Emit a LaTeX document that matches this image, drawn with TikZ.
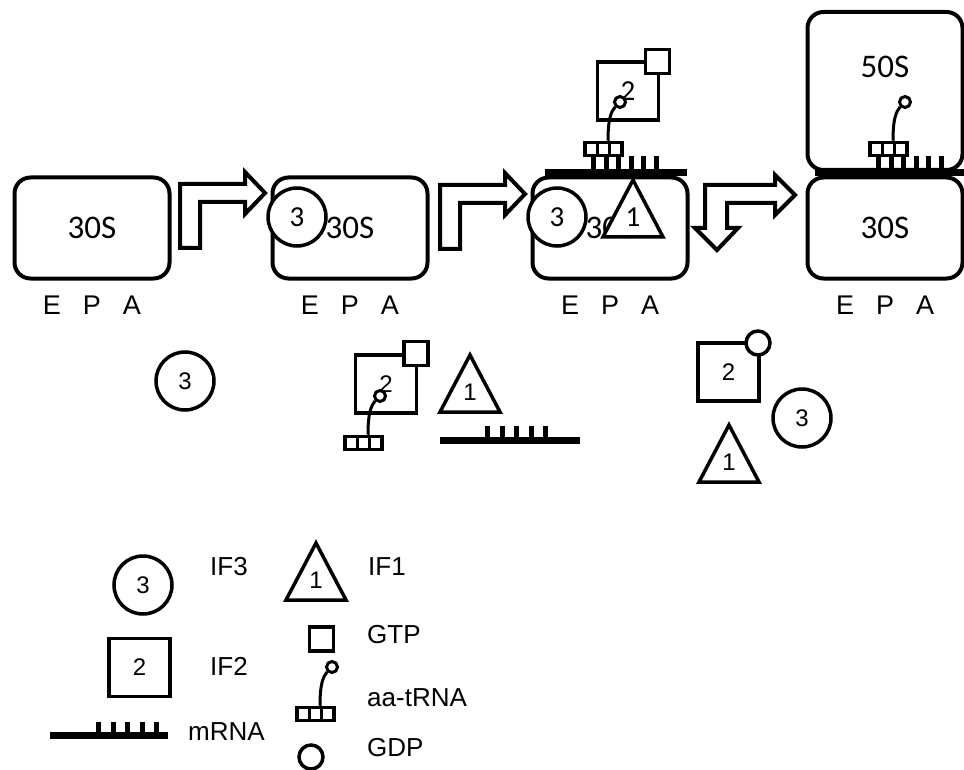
\documentclass[tikz,border=0pt]{standalone}
\usepackage{fontspec}
\setmainfont{Liberation Sans}
\newfontfamily\calfont{Carlito}
\newcommand{\bendarrow}[2]{%
  \draw[blk] (#1,#2) -- ++(0,-64) -- ++(65,0) -- ++(0,-12) -- ++(20,21) -- ++(-20,21) -- ++(0,-12) -- ++(-45,0) -- ++(0,46) -- cycle;}
\newcommand{\trna}[3]{%
  \node[acod] (#1b) at (#2+18.5,#3+6) {};
  \node[aa] (#1a) at (#2+35,#3-41) {};
  \draw[stem] ([xshift=4.5pt]#1b.north) .. controls +(0,-22) and +(-4,5) .. (#1a.225);}
\newcommand{\ifone}[4]{%
  \draw[shp] (#2,#3) -- (#2+30,#3+57) -- (#2-30,#3+57) -- cycle;
  \node[#4] (#1) at (#2,#3+37) {1};}
\newcommand{\mrna}[7]{%
  \draw[bar] (#1,#3) -- (#2,#3);
  \foreach \k in {1,...,#5} \fill (#4+#6*\k-#6,#3) rectangle ++(5,-#7);}

\begin{document}
\begin{tikzpicture}[x=1pt,y=-1pt,
  sub/.style={draw,rounded corners=16pt,line width=4pt,minimum width=155pt,minimum height=101pt,inner sep=0pt,font=\calfont\fontsize{33}{34}\selectfont},
  site/.style={font=\fontsize{27}{28}\selectfont,inner sep=0pt},
  lab/.style={anchor=west,font=\fontsize{26}{27}\selectfont,inner sep=0pt},
  num/.style={font=\fontsize{24}{24}\selectfont},
  cnum/.style={font=\calfont\fontsize{29}{29}\selectfont},
  ifthree/.style={circle,draw,fill=white,line width=3.5pt,minimum size=58pt,inner sep=0pt,num},
  iftwo/.style={rectangle,draw,line width=3.5pt,minimum width=61pt,minimum height=58pt,inner sep=0pt,num},
  gtp/.style={rectangle,draw,fill=white,line width=3.5pt,minimum size=24pt,inner sep=0pt},
  gdp/.style={circle,draw,fill=white,line width=3.5pt,minimum size=24pt,inner sep=0pt},
  acod/.style={rectangle,draw,fill=white,line width=3.5pt,minimum width=37pt,minimum height=13pt,inner sep=0pt,
    path picture={\draw[line width=3.5pt] ([xshift=12.3pt]path picture bounding box.north west) -- ([xshift=12.3pt]path picture bounding box.south west)
      ([xshift=24.7pt]path picture bounding box.north west) -- ([xshift=24.7pt]path picture bounding box.south west);}},
  aa/.style={circle,draw,fill=white,line width=3pt,minimum size=11pt,inner sep=0pt},
  stem/.style={line width=3pt},
  shp/.style={draw,line width=3.5pt,fill=white},
  blk/.style={draw,line width=4pt,fill=white},
  bar/.style={line width=7pt}]
\useasboundingbox (0,0) rectangle (964,770);
% ribosomes
\node[sub] (r1) at (92,228) {30S};
\node[sub] (r2) at (350,228) {30S};
\node[sub] (r3) at (610,228) {30S};
\node[sub] (r4) at (885,228) {30S};
\node[sub,minimum height=158pt] (l4) at (885,91) {};
\node[sub,draw=none] (l4t) at (885,67) {50S};
\foreach \c/\n in {92/1,350/2,610/3,885/4} {
  \node[site] (e\n) at (\c-40,305) {E};
  \node[site] (p\n) at (\c,305) {P};
  \node[site] (a\n) at (\c+40,305) {A};
}
\bendarrow{180}{248}
\bendarrow{440}{249}
\draw[blk] (705,228) -- (695,228) -- (717,250) -- (738,228) -- (727,228) -- (727,203) -- (775,203) -- (775,215) -- (795,195) -- (775,175) -- (775,185) -- (705,185) -- cycle;
% step 2
\node[ifthree,cnum] (c2) at (297,217) {3};
% step 3
\mrna{545}{687}{173}{591}{6}{12.5}{17}
\node[ifthree,cnum] (c3) at (557,217) {3};
\ifone{o3}{633}{180}{cnum}
\node[iftwo,cnum] (f3) at (628,91) {2};
\trna{t3}{585}{143}
\node[gtp] (g3) at (657.5,61.5) {};
% step 4
\mrna{815}{966}{173}{876}{6}{12.5}{17}
\trna{t4}{870}{143}
% released factors
\node[ifthree] (c1f) at (185,381) {3};
\node[iftwo] (f2f) at (386,384) {2};
\node[gtp] (g2f) at (416,353.5) {};
\trna{t2f}{345}{437}
\ifone{o2f}{470}{355}{num}
\mrna{440}{580}{440}{485}{5}{14.6}{14}
\node[iftwo] (f4f) at (728.5,372) {2};
\node[gdp] (d4f) at (758,343) {};
\node[ifthree] (c4f) at (802,418) {3};
\ifone{o4f}{729}{425}{num}
% legend
\node[ifthree] (kc) at (143,585) {3};
\node[lab] (kct) at (210,567) {IF3};
\ifone{ko}{316}{543}{num}
\node[lab] (kot) at (368,567) {IF1};
\node[iftwo] (kf) at (139.5,667.5) {2};
\node[lab] (kft) at (210,666) {IF2};
\node[gtp] (kg) at (321.5,639) {};
\node[lab] (kgt) at (367,635) {GTP};
\trna{kt}{297}{708}
\node[lab] (ktt) at (367,698) {aa-tRNA};
\node[gdp] (kd) at (311,757) {};
\node[lab] (kdt) at (367,748) {GDP};
\mrna{50}{168}{735}{96}{5}{14.6}{13}
\node[lab] (kmt) at (188,732) {mRNA};
\end{tikzpicture}
\end{document}
